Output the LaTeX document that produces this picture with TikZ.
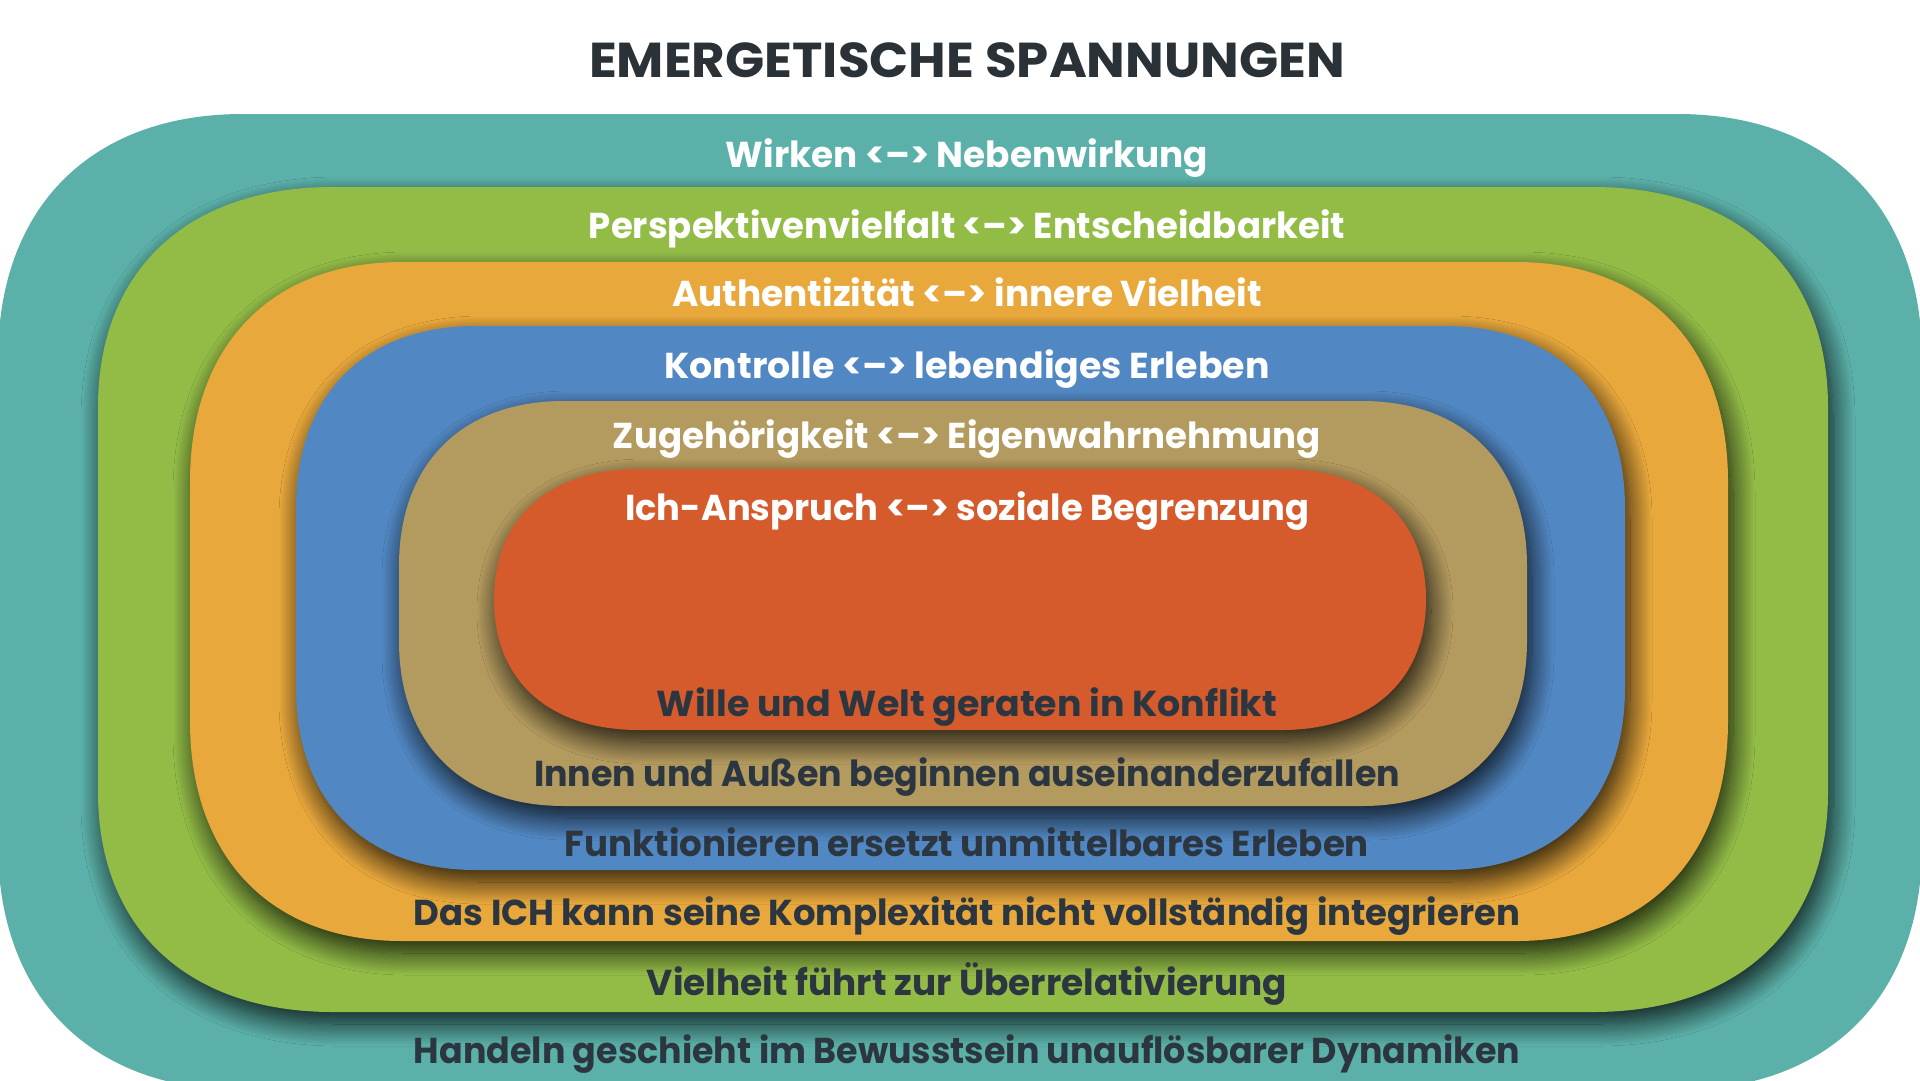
\documentclass[tikz,border=0pt]{standalone}
\usepackage{fontspec}
\setmainfont{Poppins}
\usetikzlibrary{shadows.blur}
\definecolor{cteal}{HTML}{5BB1A9}
\definecolor{cgreen}{HTML}{93BC47}
\definecolor{corange}{HTML}{E8A83C}
\definecolor{cblue}{HTML}{5187C2}
\definecolor{ctan}{HTML}{B39A5E}
\definecolor{cred}{HTML}{D55B2D}
\definecolor{cdark}{HTML}{2B3640}
\definecolor{ctitle}{HTML}{2A3137}
\newcommand\kk{0.62}
% x0 y0 x1 y1 rx ry colour style
\newcommand\layer[8]{%
  \path[fill=#7,#8] ({#1+#5},#2) -- ({#3-#5},#2)
    .. controls ({#3-#5+\kk*#5},#2) and (#3,{#2+#6-\kk*#6}) .. (#3,{#2+#6})
    -- (#3,{#4-#6})
    .. controls (#3,{#4-#6+\kk*#6}) and ({#3-#5+\kk*#5},#4) .. ({#3-#5},#4)
    -- ({#1+#5},#4)
    .. controls ({#1+#5-\kk*#5},#4) and (#1,{#4-#6+\kk*#6}) .. (#1,{#4-#6})
    -- (#1,{#2+#6})
    .. controls (#1,{#2+#6-\kk*#6}) and ({#1+#5-\kk*#5},#2) .. ({#1+#5},#2) -- cycle;}
% text fitted to a given width
\newcommand\fit[2]{\resizebox{#1pt}{\height}{#2}}
\tikzset{
  shadowed/.style={blur shadow={shadow xshift=5pt, shadow yshift=-12pt,
      shadow blur radius=22pt, shadow blur steps=24, shadow opacity=85}},
  plain/.style={},
  lbl/.style={font=\fontsize{36}{36}\selectfont\bfseries, anchor=base, inner sep=0pt},
  toplabel/.style={lbl, text=white},
  botlabel/.style={lbl, text=cdark},
  titlelabel/.style={font=\fontsize{49}{49}\selectfont\bfseries, text=ctitle, anchor=base, inner sep=0pt}
}
\begin{document}
\begin{tikzpicture}[x=1pt,y=-1pt]
\useasboundingbox (0,0) rectangle (1920,1080);
\clip (0,0) rectangle (1920,1080);
\fill[white] (0,0) rectangle (1920,1080);
\layer{-2}{114}{1922}{1090}{245}{245}{cteal}{plain}
\layer{98}{187}{1828}{1012}{235}{220}{cgreen}{shadowed}
\layer{190}{262}{1728}{941}{212}{220}{corange}{shadowed}
\layer{296}{326}{1625}{870}{180}{182}{cblue}{shadowed}
\layer{399}{401}{1527}{806}{165}{165}{ctan}{shadowed}
\layer{494}{469}{1426}{730}{145}{130}{cred}{shadowed}

\node[titlelabel] (title) at (967,77) {\fit{756}{EMERGETISCHE SPANNUNGEN}};
\node[toplabel] (t1) at (967,167) {\fit{482}{Wirken <–> Nebenwirkung}};
\node[toplabel] (t2) at (967,238.5) {\fit{756}{Perspektivenvielfalt <–> Entscheidbarkeit}};
\node[toplabel] (t3) at (967,306.5) {\fit{590}{Authentizität <–> innere Vielheit}};
\node[toplabel] (t4) at (967,378) {\fit{605}{Kontrolle <–> lebendiges Erleben}};
\node[toplabel] (t5) at (967,448.5) {\fit{708}{Zugehörigkeit <–> Eigenwahrnehmung}};
\node[toplabel] (t6) at (967,520) {\fit{684}{Ich-Anspruch <–> soziale Begrenzung}};
\node[botlabel] (b6) at (967,716.5) {\fit{620}{Wille und Welt geraten in Konflikt}};
\node[botlabel] (b5) at (967,786.5) {\fit{866}{Innen und Außen beginnen auseinanderzufallen}};
\node[botlabel] (b4) at (967,856) {\fit{804}{Funktionieren ersetzt unmittelbares Erleben}};
\node[botlabel] (b3) at (967,925) {\fit{1106}{Das ICH kann seine Komplexität nicht vollständig integrieren}};
\node[botlabel] (b2) at (967,995) {\fit{640}{Vielheit führt zur Überrelativierung}};
\node[botlabel] (b1) at (967,1063.5) {\fit{1106}{Handeln geschieht im Bewusstsein unauflösbarer Dynamiken}};
\end{tikzpicture}
\end{document}
